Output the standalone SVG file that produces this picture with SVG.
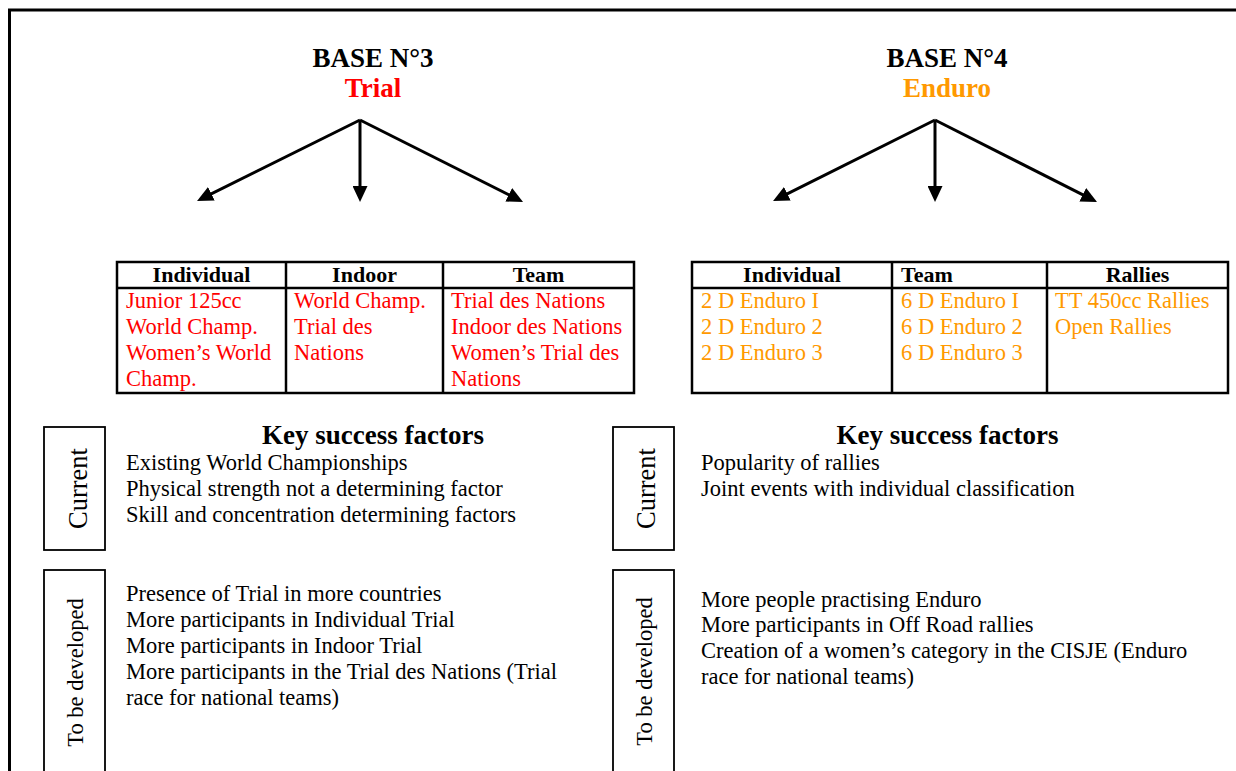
<svg xmlns="http://www.w3.org/2000/svg" width="1236" height="771" viewBox="0 0 1236 771">
  <style>
    text { font-family: "Liberation Serif", "Times New Roman", serif; }
    .title { font-size: 27px; font-weight: bold; text-anchor: middle; fill: #000; }
    .sub-trial { font-size: 27px; font-weight: bold; text-anchor: middle; fill: #FF0000; }
    .sub-enduro { font-size: 27px; font-weight: bold; text-anchor: middle; fill: #FF9900; }
    .th { font-size: 22px; font-weight: bold; fill: #000; }
    .mid { text-anchor: middle; }
    .cell-red { font-size: 22.5px; fill: #FF0000; }
    .cell-orange { font-size: 22.5px; fill: #FF9900; }
    .ksf { font-size: 27px; font-weight: bold; text-anchor: middle; fill: #000; }
    .body { font-size: 22.5px; fill: #000; }
    .side-cur { font-size: 26.5px; text-anchor: middle; fill: #000; }
    .side-dev { font-size: 22.5px; text-anchor: middle; fill: #000; }
    .tbl { fill: none; stroke: #000; stroke-width: 2.5; }
    .box { fill: none; stroke: #000; stroke-width: 1.8; }
    .frame { fill: none; stroke: #000; stroke-width: 3; }
    .conn { stroke: #000; stroke-width: 3; fill: none; marker-end: url(#head); }
  </style>
  <defs>
    <marker id="head" markerUnits="userSpaceOnUse" markerWidth="16" markerHeight="15" refX="8" refY="7.5" orient="auto">
      <path d="M0,0 L16,7.5 L0,15 Z" fill="#000"/>
    </marker>
  </defs>

  <rect width="1236" height="771" fill="#fff"/>

  <!-- page frame (open to the right and bottom) -->
  <path class="frame" d="M9.5,771 L9.5,10 L1236,10"/>

  <!-- Base 3 heading -->
  <g id="base3">
    <text class="title" x="373" y="67">BASE N°3</text>
    <text class="sub-trial" x="373" y="97">Trial</text>
  </g>

  <!-- Base 4 heading -->
  <g id="base4">
    <text class="title" x="947" y="67">BASE N°4</text>
    <text class="sub-enduro" x="947" y="97">Enduro</text>
  </g>

  <!-- branch arrows -->
  <g id="connectors">
    <line class="conn" x1="360" y1="120" x2="204.2" y2="197.4"/>
    <line class="conn" x1="360" y1="120" x2="360" y2="194"/>
    <line class="conn" x1="360" y1="120" x2="515.9" y2="198.4"/>
    <line class="conn" x1="935" y1="120" x2="780.2" y2="197.4"/>
    <line class="conn" x1="935" y1="120" x2="935" y2="194"/>
    <line class="conn" x1="935" y1="120" x2="1089.9" y2="198.4"/>
  </g>

  <!-- Trial categories table -->
  <g id="trial-table">
    <rect class="tbl" x="117" y="262" width="517" height="131"/>
    <line class="tbl" x1="117" y1="288" x2="634" y2="288"/>
    <line class="tbl" x1="286" y1="262" x2="286" y2="393"/>
    <line class="tbl" x1="443" y1="262" x2="443" y2="393"/>
    <text class="th mid" x="201.5" y="281.5">Individual</text>
    <text class="th mid" x="364.5" y="281.5">Indoor</text>
    <text class="th mid" x="538.5" y="281.5">Team</text>
    <text class="cell-red" x="126" y="307.5">Junior 125cc</text>
    <text class="cell-red" x="126" y="333.5">World Champ.</text>
    <text class="cell-red" x="126" y="359.5">Women’s World</text>
    <text class="cell-red" x="126" y="385.5">Champ.</text>
    <text class="cell-red" x="294" y="307.5">World Champ.</text>
    <text class="cell-red" x="294" y="333.5">Trial des</text>
    <text class="cell-red" x="294" y="359.5">Nations</text>
    <text class="cell-red" x="451" y="307.5">Trial des Nations</text>
    <text class="cell-red" x="451" y="333.5">Indoor des Nations</text>
    <text class="cell-red" x="451" y="359.5">Women’s Trial des</text>
    <text class="cell-red" x="451" y="385.5">Nations</text>
  </g>

  <!-- Enduro categories table -->
  <g id="enduro-table">
    <rect class="tbl" x="692" y="262" width="536" height="131"/>
    <line class="tbl" x1="692" y1="288" x2="1228" y2="288"/>
    <line class="tbl" x1="892" y1="262" x2="892" y2="393"/>
    <line class="tbl" x1="1047" y1="262" x2="1047" y2="393"/>
    <text class="th mid" x="792" y="281.5">Individual</text>
    <text class="th" x="901" y="281.5">Team</text>
    <text class="th mid" x="1137.5" y="281.5">Rallies</text>
    <text class="cell-orange" x="701" y="307.5">2 D Enduro I</text>
    <text class="cell-orange" x="701" y="333.5">2 D Enduro 2</text>
    <text class="cell-orange" x="701" y="359.5">2 D Enduro 3</text>
    <text class="cell-orange" x="901" y="307.5">6 D Enduro I</text>
    <text class="cell-orange" x="901" y="333.5">6 D Enduro 2</text>
    <text class="cell-orange" x="901" y="359.5">6 D Enduro 3</text>
    <text class="cell-orange" x="1055" y="307.5">TT 450cc Rallies</text>
    <text class="cell-orange" x="1055" y="333.5">Open Rallies</text>
  </g>

  <!-- Trial key success factors -->
  <g id="trial-current">
    <rect class="box" x="44" y="427" width="61" height="123"/>
    <text class="side-cur" transform="translate(87,488.5) rotate(-90)">Current</text>
    <text class="ksf" x="373" y="443.5">Key success factors</text>
    <text class="body" x="126" y="470">Existing World Championships</text>
    <text class="body" x="126" y="496">Physical strength not a determining factor</text>
    <text class="body" x="126" y="522">Skill and concentration determining factors</text>
  </g>

  <g id="trial-develop">
    <rect class="box" x="44" y="570" width="61" height="210"/>
    <text class="side-dev" transform="translate(82.5,672.5) rotate(-90)">To be developed</text>
    <text class="body" x="126" y="600.5">Presence of Trial in more countries</text>
    <text class="body" x="126" y="626.5">More participants in Individual Trial</text>
    <text class="body" x="126" y="652.5">More participants in Indoor Trial</text>
    <text class="body" x="126" y="678.5">More participants in the Trial des Nations (Trial</text>
    <text class="body" x="126" y="704.5">race for national teams)</text>
  </g>

  <!-- Enduro key success factors -->
  <g id="enduro-current">
    <rect class="box" x="613" y="427" width="61" height="123"/>
    <text class="side-cur" transform="translate(655,488.5) rotate(-90)">Current</text>
    <text class="ksf" x="947.5" y="443.5">Key success factors</text>
    <text class="body" x="701" y="470">Popularity of rallies</text>
    <text class="body" x="701" y="496">Joint events with individual classification</text>
  </g>

  <g id="enduro-develop">
    <rect class="box" x="613" y="570" width="61" height="210"/>
    <text class="side-dev" transform="translate(652,671.5) rotate(-90)">To be developed</text>
    <text class="body" x="701" y="606.5">More people practising Enduro</text>
    <text class="body" x="701" y="632">More participants in Off Road rallies</text>
    <text class="body" x="701" y="658">Creation of a women’s category in the CISJE (Enduro</text>
    <text class="body" x="701" y="684">race for national teams)</text>
  </g>
</svg>
